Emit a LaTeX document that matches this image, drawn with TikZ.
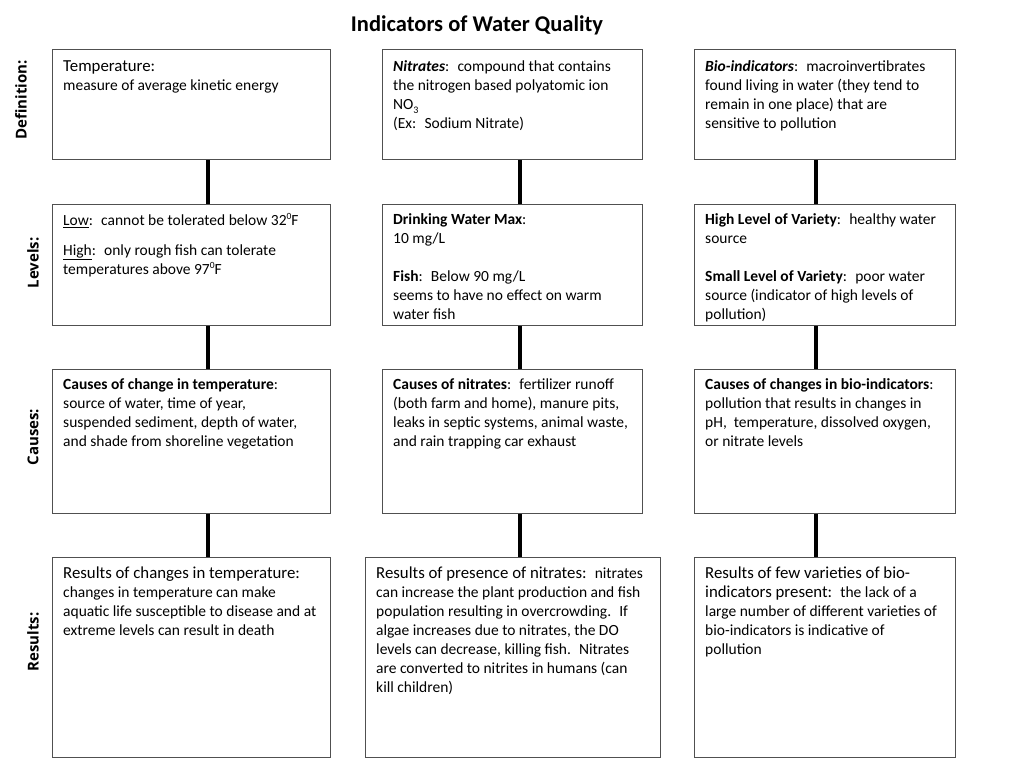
\documentclass[tikz,border=0pt]{standalone}
\usepackage{fontspec}
\setmainfont{Carlito}
\newfontfamily\sidefont{Open Sans}
\definecolor{boxgray}{RGB}{80,80,80}
\newcommand\boxfont{\fontsize{15.5}{19}\selectfont}
\newcommand\leadfont{\fontsize{16.8}{19}\selectfont}
\newcommand\degsup[1]{\raisebox{5.5pt}{\fontsize{9.5}{10}\selectfont #1}}
\newcommand\chemsub[1]{\raisebox{-3.5pt}{\fontsize{10}{10}\selectfont #1}}

\tikzset{
  panel/.style={draw=boxgray,line width=1.2pt,anchor=north west,inner sep=0pt},
  paneltext/.style={anchor=north west,align=left,inner xsep=11pt,inner ysep=9.5pt,font=\boxfont},
  link/.style={line width=4pt,black},
  rowlabel/.style={rotate=90,font=\sidefont\bfseries\fontsize{15}{16}\selectfont}
}

\begin{document}
\begin{tikzpicture}[x=1pt,y=-1pt]
  \useasboundingbox (0,0) rectangle (1024,768);
  \node[anchor=base,font=\bfseries\fontsize{22.5}{27}\selectfont] (title) at (477,32) {Indicators of Water Quality};

  % row labels
  \node[rowlabel] (ldef) at (21,100) {Definition:};
  \node[rowlabel] (llev) at (33,263) {Levels:};
  \node[rowlabel] (lcau) at (33,437) {Causes:};
  \node[rowlabel] (lres) at (33,642) {Results:};

  % definition row
  \node[panel,minimum width=278pt,minimum height=110pt] (def1) at (52,49) {};
  \node[panel,minimum width=260pt,minimum height=110pt] (def2) at (382,49) {};
  \node[panel,minimum width=261pt,minimum height=110pt] (def3) at (694,49) {};
  \node[paneltext,yshift=-2pt] (def1t) at (def1.north west) {{\leadfont Temperature:}\\measure of average kinetic energy};
  \node[paneltext,yshift=-2pt] (def2t) at (def2.north west) {\textbf{\textit{Nitrates}}:~ compound that contains\\the nitrogen based polyatomic ion\\NO\chemsub{3}\\(Ex:~ Sodium Nitrate)};
  \node[paneltext,yshift=-2pt] (def3t) at (def3.north west) {\textbf{\textit{Bio-indicators}}:~ macroinvertibrates\\found living in water (they tend to\\remain in one place) that are\\sensitive to pollution};

  % levels row
  \node[panel,minimum width=278pt,minimum height=121pt] (lev1) at (52,204) {};
  \node[panel,minimum width=260pt,minimum height=121pt] (lev2) at (382,204) {};
  \node[panel,minimum width=261pt,minimum height=121pt] (lev3) at (694,204) {};
  \node[paneltext] (lev1t) at (lev1.north west) {\underline{Low}:~ cannot be tolerated below 32\degsup{0}F\\[11pt]\underline{High}:~ only rough fish can tolerate\\temperatures above 97\degsup{0}F};
  \node[paneltext] (lev2t) at (lev2.north west) {\textbf{Drinking Water Max}:\\10 mg/L\\[19pt]\textbf{Fish}:~ Below 90 mg/L\\seems to have no effect on warm\\water fish};
  \node[paneltext] (lev3t) at (lev3.north west) {\textbf{High Level of Variety}:~ healthy water\\source\\[19pt]\textbf{Small Level of Variety}:~ poor water\\source (indicator of high levels of\\pollution)};

  % causes row
  \node[panel,minimum width=278pt,minimum height=144pt] (cau1) at (52,369) {};
  \node[panel,minimum width=260pt,minimum height=144pt] (cau2) at (382,369) {};
  \node[panel,minimum width=261pt,minimum height=144pt] (cau3) at (694,369) {};
  \node[paneltext] (cau1t) at (cau1.north west) {\textbf{Causes of change in temperature}:\\source of water, time of year,\\suspended sediment, depth of water,\\and shade from shoreline vegetation};
  \node[paneltext] (cau2t) at (cau2.north west) {\textbf{Causes of nitrates}:~ fertilizer runoff\\(both farm and home), manure pits,\\leaks in septic systems, animal waste,\\and rain trapping car exhaust};
  \node[paneltext] (cau3t) at (cau3.north west) {\textbf{Causes of changes in bio-indicators}:\\pollution that results in changes in\\pH,~ temperature, dissolved oxygen,\\or nitrate levels};

  % results row
  \node[panel,minimum width=278pt,minimum height=200pt] (res1) at (52,557) {};
  \node[panel,minimum width=295pt,minimum height=200pt] (res2) at (365,557) {};
  \node[panel,minimum width=261pt,minimum height=200pt] (res3) at (694,557) {};
  \node[paneltext] (res1t) at (res1.north west) {{\leadfont Results of changes in temperature:}\\changes in temperature can make\\aquatic life susceptible to disease and at\\extreme levels can result in death};
  \node[paneltext] (res2t) at (res2.north west) {{\leadfont Results of presence of nitrates:}~ nitrates\\can increase the plant production and fish\\population resulting in overcrowding.~ If\\algae increases due to nitrates, the DO\\levels can decrease, killing fish.~ Nitrates\\are converted to nitrites in humans (can\\kill children)};
  \node[paneltext] (res3t) at (res3.north west) {{\leadfont Results of few varieties of bio-}\\{\leadfont indicators present:}~ the lack of a\\large number of different varieties of\\bio-indicators is indicative of\\pollution};

  % connectors
  \coordinate (c1) at (208,0);
  \coordinate (c2) at (520,0);
  \coordinate (c3) at (816,0);
  \foreach \c in {1,2,3}{
    \draw[link] (def\c.south -| c\c) -- (lev\c.north -| c\c);
    \draw[link] (lev\c.south -| c\c) -- (cau\c.north -| c\c);
    \draw[link] (cau\c.south -| c\c) -- (res\c.north -| c\c);
  }
\end{tikzpicture}
\end{document}
